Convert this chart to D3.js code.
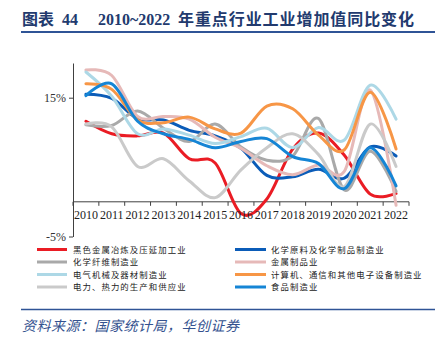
<!DOCTYPE html>
<html>
<head>
<meta charset="utf-8">
<script src="https://cdn.jsdelivr.net/npm/d3@7"></script>
<style>
  html, body { margin: 0; padding: 0; background: #fff; }
  svg { display: block; }
</style>
</head>
<body>
<svg id="chart" width="442" height="341"></svg>
<script>
// Years on the category axis
const years = ["2010","2011","2012","2013","2014","2015","2016","2017","2018","2019","2020","2021","2022"];

// Value-added growth by industry, % y/y
const ferrous      = [11.6, 9.8, 9.5, 9.9, 6.2, 5.6, -1.7, 0.4, 7.6, 9.9, 6.7, 1.1, 1.2];
const chemicals    = [15.5, 14.9, 12.0, 11.8, 10.3, 9.5, 7.7, 3.8, 3.6, 4.7, 3.4, 7.9, 6.6];
const chemFibre    = [11.1, 11.0, 13.1, 10.6, 8.7, 11.2, 7.9, 6.0, 6.6, 12.0, 1.7, 7.3, 1.5];
const metalProd    = [19.0, 18.2, 12.3, 12.3, 11.9, 9.3, 7.7, 5.2, 3.9, 5.3, 4.4, 16.1, -0.5];
const electrical   = [18.7, 15.2, 9.8, 10.5, 9.6, 8.4, 9.4, 10.6, 7.8, 10.7, 8.9, 16.8, 11.9];
const electronics  = [17.0, 16.2, 11.8, 11.4, 12.2, 10.5, 9.9, 13.8, 13.4, 9.6, 7.5, 15.8, 7.6];
const power        = [11.2, 10.8, 5.1, 6.2, 3.0, 0.6, 4.6, 7.8, 9.8, 6.8, 2.2, 11.2, 5.1];
const food         = [15.3, 17.0, 11.6, 9.8, 9.0, 7.8, 8.7, 9.1, 6.5, 5.5, 1.9, 7.8, 2.3];

const seriesNames = [
  "黑色金属冶炼及压延加工业", "化学原料及化学制品制造业",
  "化学纤维制造业", "金属制品业",
  "电气机械及器材制造业", "计算机、通信和其他电子设备制造业",
  "电力、热力的生产和供应业", "食品制造业"
];
const seriesColors = ["#ea1c24", "#0b5cb8", "#a9a9a9", "#e6b9b8", "#add8e6", "#f79646", "#cacaca", "#1585d5"];
const seriesValues = [ferrous, chemicals, chemFibre, metalProd, electrical, electronics, power, food];

const yTicks = [-5, 15];
const yDomain = [-5, 20];

const svg = d3.select("#chart");
const navy = "#223a6e";
const rule = "#2f5496";
const serifCJK = "'Liberation Serif', 'Times New Roman', 'Noto Sans CJK SC', serif";

// Title
const title = svg.append("text")
  .attr("y", 25)
  .attr("fill", navy)
  .attr("font-family", serifCJK)
  .attr("font-weight", "bold")
  .attr("font-size", 16);
title.append("tspan").attr("x", 22).text("图表");
title.append("tspan").attr("x", 62).text("44");
title.append("tspan").attr("x", 98).text("2010~2022");
title.append("tspan").attr("x", 178).attr("textLength", 236).attr("lengthAdjust", "spacing")
  .text("年重点行业工业增加值同比变化");

svg.append("line").attr("x1", 21).attr("x2", 435).attr("y1", 32).attr("y2", 32)
  .attr("stroke", rule).attr("stroke-width", 2);

// Plot area
const plot = { left: 73, right: 409, top: 63, bottom: 236.5 };

const x = d3.scaleBand().domain(years).range([plot.left, plot.right]).paddingInner(0).paddingOuter(0);
const y = d3.scaleLinear().domain(yDomain).range([plot.bottom, plot.top]);

const axisColor = "#404040";

// Category axis sits on the zero line, ticks between categories
const xAxisG = svg.append("g").attr("transform", `translate(0,${y(0)})`);
xAxisG.append("line").attr("x1", plot.left).attr("x2", plot.right).attr("y1", 0).attr("y2", 0)
  .attr("stroke", axisColor).attr("stroke-width", 1);
const boundaries = years.map(d => x(d)).concat([x(years[years.length - 1]) + x.bandwidth()]);
xAxisG.selectAll("line.tick").data(boundaries).enter().append("line")
  .attr("class", "tick")
  .attr("x1", d => d).attr("x2", d => d).attr("y1", 0).attr("y2", 4)
  .attr("stroke", axisColor).attr("stroke-width", 1);

// Value axis
const yAxis = d3.axisLeft(y).tickValues(yTicks).tickFormat(d => d + "%").tickSizeInner(4).tickSizeOuter(0).tickPadding(3);
const yAxisG = svg.append("g").attr("transform", `translate(${plot.left},0)`).call(yAxis);
yAxisG.select(".domain").attr("stroke", axisColor);
yAxisG.selectAll(".tick line").attr("stroke", axisColor);
yAxisG.selectAll(".tick text")
  .attr("font-family", serifCJK).attr("font-size", 12).attr("fill", "#333");

// Series lines
const line = d3.line()
  .x((d, i) => x(years[i]) + x.bandwidth() / 2)
  .y(d => y(d))
  .curve(d3.curveCardinal.tension(0));

svg.append("g").selectAll("path").data(seriesValues).enter().append("path")
  .attr("d", d => line(d))
  .attr("fill", "none")
  .attr("stroke", (d, i) => seriesColors[i])
  .attr("stroke-width", 3)
  .attr("stroke-linejoin", "round")
  .attr("stroke-linecap", "round");

// Year labels (drawn after the lines, below the axis)
svg.append("g").selectAll("text").data(years).enter().append("text")
  .attr("x", d => x(d) + x.bandwidth() / 2)
  .attr("y", 219)
  .attr("text-anchor", "middle")
  .attr("font-family", serifCJK)
  .attr("font-size", 12)
  .attr("fill", "#222")
  .text(d => d);

// Legend in two columns
const legend = svg.append("g");
const legendRows = [249.5, 262, 274.5, 287];
const legendCols = [{ x1: 37, x2: 67, tx: 73 }, { x1: 235, x2: 266, tx: 271 }];
seriesNames.forEach((name, i) => {
  const col = legendCols[i % 2];
  const ry = legendRows[Math.floor(i / 2)];
  legend.append("line")
    .attr("x1", col.x1).attr("x2", col.x2).attr("y1", ry).attr("y2", ry)
    .attr("stroke", seriesColors[i]).attr("stroke-width", 3);
  legend.append("text")
    .attr("x", col.tx).attr("y", ry + 3.2)
    .attr("font-family", "'Noto Sans CJK SC', sans-serif")
    .attr("font-size", 8.4)
    .attr("letter-spacing", 1.1)
    .attr("fill", "#222")
    .text(name);
});

// Source note
svg.append("line").attr("x1", 21).attr("x2", 435).attr("y1", 309.5).attr("y2", 309.5)
  .attr("stroke", rule).attr("stroke-width", 1.5);
svg.append("text")
  .attr("x", 22).attr("y", 331)
  .attr("font-family", "'Noto Sans CJK SC', sans-serif")
  .attr("font-style", "italic")
  .attr("font-size", 14)
  .attr("fill", "#34528f")
  .attr("textLength", 217)
  .attr("lengthAdjust", "spacing")
  .text("资料来源：国家统计局，华创证券");
</script>
</body>
</html>
